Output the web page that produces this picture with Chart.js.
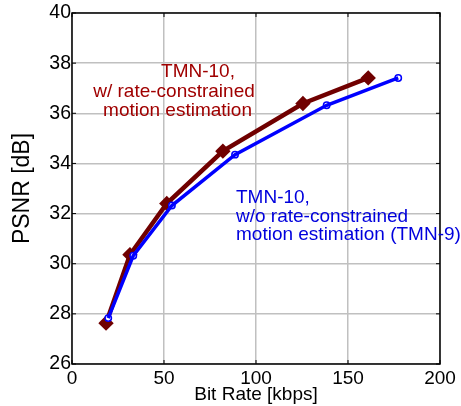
<!DOCTYPE html>
<html>
<head>
<meta charset="utf-8">
<script src="https://cdn.jsdelivr.net/npm/chart.js@4/dist/chart.umd.min.js"></script>
<style>
  html, body { margin: 0; padding: 0; background: #fff; }
  #wrap { width: 461px; height: 406px; position: relative; }
</style>
</head>
<body>
<div id="wrap"><canvas id="c"></canvas></div>
<script>
// --- data ---
const rcRate  = [18.5, 31.5, 51.5, 82, 125.5, 161];      // kbps, with rate-constrained ME
const rcPsnr  = [27.63, 30.36, 32.4, 34.49, 36.39, 37.41];
const tmnRate = [19.7, 33.3, 54.3, 88.6, 138.4, 177.3];   // kbps, TMN-9
const tmnPsnr = [27.83, 30.32, 32.32, 34.35, 36.32, 37.41];
const xTicks  = [0, 50, 100, 150, 200];
const yTicks  = [26, 28, 30, 32, 34, 36, 38, 40];
const redLabel  = ['TMN-10,', 'w/ rate-constrained', 'motion estimation'];
const blueLabel = ['TMN-10,', 'w/o rate-constrained', 'motion estimation (TMN-9)'];

const FONT = "'Liberation Sans', Arial, sans-serif";
const pts = (xs, ys) => xs.map((x, i) => ({ x, y: ys[i] }));

// box, inner ticks and in-plot labels
const framePlugin = {
    id: 'frame',
    afterDraw(chart) {
        const { ctx, chartArea: a, scales: { x, y } } = chart;
        ctx.save();
        ctx.strokeStyle = '#000';
        ctx.lineWidth = 1.5;
        ctx.strokeRect(a.left, a.top, a.right - a.left, a.bottom - a.top);
        ctx.lineWidth = 1;
        ctx.beginPath();
        xTicks.forEach(v => {
            const px = x.getPixelForValue(v);
            ctx.moveTo(px, a.bottom); ctx.lineTo(px, a.bottom - 4);
            ctx.moveTo(px, a.top); ctx.lineTo(px, a.top + 4);
        });
        yTicks.forEach(v => {
            const py = y.getPixelForValue(v);
            ctx.moveTo(a.left, py); ctx.lineTo(a.left + 4, py);
            ctx.moveTo(a.right, py); ctx.lineTo(a.right - 4, py);
        });
        ctx.stroke();

        ctx.font = '19px ' + FONT;
        ctx.textBaseline = 'middle';
        ctx.fillStyle = '#a00000';
        ctx.textAlign = 'center';
        const redX = [126, 102, 105.5], redY = [59, 79, 98];
        redLabel.forEach((s, i) => ctx.fillText(s, a.left + redX[i], a.top + redY[i]));
        ctx.fillStyle = '#0000dd';
        ctx.textAlign = 'left';
        blueLabel.forEach((s, i) => ctx.fillText(s, a.left + 164, a.top + 185 + i * 18.5));
        ctx.restore();
    }
};

new Chart(document.getElementById('c'), {
    type: 'scatter',
    data: {
        datasets: [
            { data: pts(tmnRate, tmnPsnr), showLine: true, borderColor: '#0000ff', borderWidth: 3.5, pointRadius: 0 },
            { data: pts(tmnRate, tmnPsnr), showLine: true, borderColor: '#c8c8ff', borderWidth: 1.2, pointRadius: 3.2, pointBorderWidth: 1.5, pointBorderColor: '#0000ff', pointBackgroundColor: '#fff' },
            { data: pts(rcRate, rcPsnr), showLine: true, borderColor: '#700000', borderWidth: 4.5, pointStyle: 'rectRot', pointRadius: 4.5, pointBackgroundColor: '#700000', pointBorderColor: '#700000' }
        ]
    },
    options: {
        responsive: true, maintainAspectRatio: false, animation: false,
        layout: { padding: { top: 13, right: 21, left: 0, bottom: 0 } },
        plugins: { legend: { display: false }, tooltip: { enabled: false } },
        scales: {
            x: {
                type: 'linear', min: 0, max: 200,
                afterBuildTicks: s => { s.ticks = xTicks.map(v => ({ value: v })); },
                afterFit: s => { s.height = 42; },
                grid: { color: '#c0c0c0', lineWidth: 1.5, drawTicks: false },
                border: { display: false },
                ticks: { color: '#000', padding: 3, font: { family: FONT, size: 19 } },
                title: { display: true, text: 'Bit Rate [kbps]', color: '#000', padding: 0, font: { family: FONT, size: 19 } }
            },
            y: {
                type: 'linear', min: 26, max: 40,
                afterBuildTicks: s => { s.ticks = yTicks.map(v => ({ value: v })); },
                afterFit: s => { s.width = 72; },
                grid: { color: '#c0c0c0', lineWidth: 1.5, drawTicks: false },
                border: { display: false },
                ticks: { color: '#000', padding: 1, font: { family: FONT, size: 19.5 } },
                title: { display: true, text: 'PSNR [dB]', color: '#000', padding: { top: 9, bottom: 0 }, font: { family: FONT, size: 23 } }
            }
        }
    },
    plugins: [framePlugin]
});
</script>
</body>
</html>
